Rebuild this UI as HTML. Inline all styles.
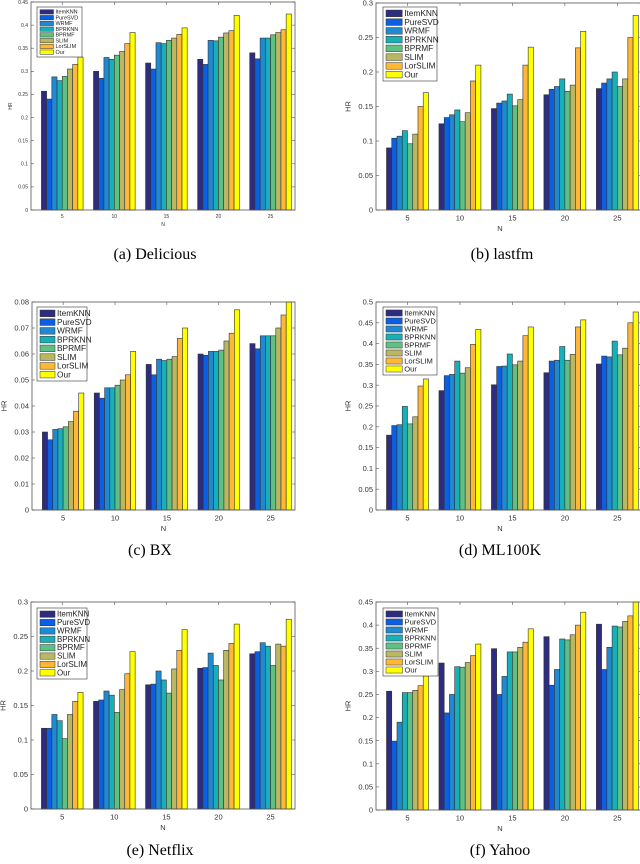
<!DOCTYPE html>
<html><head><meta charset="utf-8">
<style>
body{margin:0;background:#fff;}
svg{display:block;font-family:"Liberation Sans",sans-serif;}
.cap{font-family:"Liberation Serif",serif;font-size:16px;}
</style></head>
<body>
<svg id="fig" width="640" height="864" viewBox="0 0 640 864"></svg>
<script>
const categories = [5, 10, 15, 20, 25];
const methods = ["ItemKNN","PureSVD","WRMF","BPRKNN","BPRMF","SLIM","LorSLIM","Our"];
const colors = ["#2c2d80","#0b5fe2","#1f8ad2","#17afb8","#5ec183","#b9b762","#ffb735","#ffff00"];

const deliciousValues = [
 [.257,.240,.288,.280,.289,.305,.315,.331],
 [.300,.285,.330,.326,.335,.343,.360,.384],
 [.318,.305,.362,.360,.367,.372,.380,.394],
 [.326,.315,.367,.366,.374,.383,.388,.421],
 [.340,.327,.372,.372,.379,.384,.390,.424]];
const lastfmValues = [
 [.090,.104,.107,.115,.096,.110,.150,.170],
 [.125,.134,.138,.145,.128,.141,.187,.210],
 [.147,.155,.158,.168,.151,.160,.210,.236],
 [.167,.175,.179,.190,.172,.181,.235,.259],
 [.176,.184,.190,.200,.179,.190,.250,.282]];
const bxValues = [
 [.030,.027,.031,.0313,.032,.034,.038,.045],
 [.045,.043,.047,.047,.048,.050,.052,.061],
 [.056,.052,.058,.0575,.058,.059,.066,.070],
 [.060,.0595,.061,.061,.0615,.065,.068,.077],
 [.064,.062,.067,.067,.067,.070,.075,.080]];
const ml100kValues = [
 [.180,.203,.205,.249,.207,.224,.298,.315],
 [.287,.323,.326,.358,.329,.342,.398,.434],
 [.301,.345,.346,.375,.349,.358,.419,.440],
 [.330,.358,.360,.393,.360,.374,.440,.457],
 [.351,.370,.368,.406,.373,.389,.450,.476]];
const netflixValues = [
 [.117,.117,.137,.128,.102,.137,.156,.169],
 [.156,.158,.171,.165,.140,.173,.196,.228],
 [.180,.181,.200,.187,.168,.203,.230,.260],
 [.204,.205,.226,.208,.187,.230,.240,.268],
 [.225,.228,.241,.236,.208,.239,.236,.275]];
const yahooValues = [
 [.257,.149,.190,.254,.254,.259,.269,.290],
 [.318,.210,.250,.310,.309,.319,.334,.359],
 [.349,.250,.289,.342,.342,.352,.363,.392],
 [.375,.270,.304,.370,.368,.379,.400,.428],
 [.402,.304,.352,.398,.396,.408,.420,.450]];

const ticksA = ["0","0.05","0.1","0.15","0.2","0.25","0.3","0.35","0.4","0.45"];
const ticksB = ["0","0.05","0.1","0.15","0.2","0.25","0.3"];
const ticksC = ["0","0.01","0.02","0.03","0.04","0.05","0.06","0.07","0.08"];
const ticksD = ["0","0.05","0.1","0.15","0.2","0.25","0.3","0.35","0.4","0.45","0.5"];
const ticksE = ["0","0.05","0.1","0.15","0.2","0.25","0.3"];
const ticksF = ["0","0.05","0.1","0.15","0.2","0.25","0.3","0.35","0.4","0.45"];

const NS="http://www.w3.org/2000/svg";
const svg=document.getElementById('fig');
function mk(tag,attrs,parent){const e=document.createElementNS(NS,tag);for(const k in attrs)e.setAttribute(k,attrs[k]);(parent||svg).appendChild(e);return e;}

function panel(id,values,ticks,ymax,L,R,T,B,leg,fs,cap,capX,capY){
  const g=mk('g',{});
  
  
  const x0=0.4,x1=5.47;
  const xs=v=>L+(v-x0)/(x1-x0)*(R-L);
  const ys=v=>B-v/ymax*(B-T);
  const bw=(xs(2)-xs(1))*0.8/8;
  values.forEach((grp,gi)=>{
    grp.forEach((v,mi)=>{
      const cx=xs(gi+1)-(xs(2)-xs(1))*0.4+mi*bw;
      const r=mk('rect',{x:cx,y:ys(v),width:bw,height:B-ys(v),fill:colors[mi],stroke:'#333',"stroke-width":0.6},g);
      
      
    });
  });
  const fr=mk('rect',{x:L,y:T,width:R-L,height:B-T,fill:'none',stroke:'#555',"stroke-width":0.8},g);
  
  
  ticks.forEach(t=>{
    const y=ys(parseFloat(t));
    mk('line',{x1:L,x2:L+3,y1:y,y2:y,stroke:'#555',"stroke-width":0.6},g);
    mk('line',{x1:R,x2:R-3,y1:y,y2:y,stroke:'#555',"stroke-width":0.6},g);
    const tx=mk('text',{x:L-3,y:y+fs*0.35,"font-size":fs,"text-anchor":"end",fill:'#333'},g);
    tx.textContent=t;
    
    
  });
  categories.forEach((c,i)=>{
    const x=xs(i+1);
    mk('line',{x1:x,x2:x,y1:B,y2:B-3,stroke:'#555',"stroke-width":0.6},g);
    mk('line',{x1:x,x2:x,y1:T,y2:T+3,stroke:'#555',"stroke-width":0.6},g);
    const tx=mk('text',{x:x,y:B+fs+3,"font-size":fs,"text-anchor":"middle",fill:'#333'},g);
    tx.textContent=c;
    
    
  });
  const xl=mk('text',{x:(L+Math.min(R,640))/2+(R>600?-8:0),y:B+2*fs+6,"font-size":fs,"text-anchor":"middle",fill:'#333'},g);
  xl.textContent='N';
  
  
  const yl=mk('text',{x:0,y:0,"font-size":fs,"text-anchor":"middle",fill:'#333',transform:`translate(${L-(fs*2.6+6)},${(T+B)/2}) rotate(-90)`},g);
  yl.textContent='HR';
  
  
  const [lx,ly,lw,lh]=leg;
  const lg=mk('g',{},g);
  
  
  mk('rect',{x:lx,y:ly,width:lw,height:lh,fill:'#fff',stroke:'#333',"stroke-width":0.6},lg);
  const rh=(lh-4)/8;
  methods.forEach((m,i)=>{
    const yy=ly+2+i*rh;
    const sw=lw*0.3;
    const e=mk('g',{},lg);
    
    
    mk('rect',{x:lx+3,y:yy+rh*0.12,width:sw,height:rh*0.76,fill:colors[i],stroke:'#333',"stroke-width":0.5},e);
    const t=mk('text',{x:lx+5+sw,y:yy+rh*0.8,"font-size":rh*0.95,fill:'#222'},e);
    t.textContent=m;
  });
  const c=mk('text',{x:capX,y:capY,"text-anchor":"middle",class:'cap'},g);
  c.textContent=cap;
  
  
}

panel('delicious',deliciousValues,ticksA,0.45,31,295,2,210,[37,7,45,50],5,'(a)  Delicious',155,259);
panel('lastfm',lastfmValues,ticksB,0.3,376,642,3,210,[383,7,54,74],7.5,'(b)  lastfm',502,259);
panel('bx',bxValues,ticksC,0.08,32,295,302,510,[37,307,50,74],7.5,'(c)  BX',150,555);
panel('ml100k',ml100kValues,ticksD,0.5,376,642,302,510,[383,307,54,68],7.5,'(d)  ML100K',500,555);
panel('netflix',netflixValues,ticksE,0.3,31,295,602,809,[37,608,50,71],7.5,'(e)  Netflix',160,855);
panel('yahoo',yahooValues,ticksF,0.45,376,642,602,810,[383,608,55,68],7.5,'(f)  Yahoo',500,855);
</script>
</body></html>
